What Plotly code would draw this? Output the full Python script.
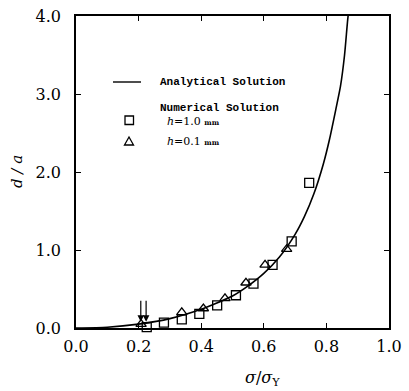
import plotly.graph_objects as go

# Analytical solution
sigma_curve = [0.0, 0.1, 0.2, 0.3, 0.4, 0.45, 0.5, 0.55, 0.6, 0.65, 0.7, 0.73, 0.76, 0.79, 0.81, 0.83, 0.845, 0.858, 0.868, 0.875]
d_curve = [0.0, 0.01, 0.05, 0.12, 0.24, 0.32, 0.41, 0.54, 0.70, 0.91, 1.20, 1.43, 1.72, 2.10, 2.42, 2.80, 3.10, 3.50, 3.95, 4.20]

# Numerical solution h = 1.0 mm (squares)
sigma_sq = [0.226, 0.281, 0.338, 0.394, 0.451, 0.511, 0.567, 0.628, 0.689, 0.745]
d_sq = [0.01, 0.07, 0.11, 0.18, 0.29, 0.42, 0.57, 0.81, 1.11, 1.86]

# Numerical solution h = 0.1 mm (triangles)
sigma_tri = [0.208, 0.338, 0.407, 0.476, 0.543, 0.604, 0.673]
d_tri = [0.05, 0.20, 0.25, 0.38, 0.58, 0.81, 1.01]

# Arrows marking onset
arrow_x = [0.207, 0.224]
arrow_tip = [0.08, 0.08]
arrow_tail = [0.37, 0.37]

x_ticks = [0.0, 0.2, 0.4, 0.6, 0.8, 1.0]
y_ticks = [0.0, 1.0, 2.0, 3.0, 4.0]

W, H = 409, 391
L, R, T, B = 76, 20, 16, 63
pw, ph = W - L - R, H - T - B


def px(xp):
    return (xp - L) / pw


def py(yp):
    return (H - B - yp) / ph


fig = go.Figure()
fig.add_trace(go.Scatter(x=sigma_curve, y=d_curve, mode="lines", line=dict(color="black", width=1.6, shape="spline", smoothing=0.6),
                         showlegend=False, hoverinfo="skip"))
fig.add_trace(go.Scatter(x=sigma_sq, y=d_sq, mode="markers",
                         marker=dict(symbol="square-open", size=9, color="black", line=dict(width=1.3)),
                         showlegend=False, cliponaxis=False))
fig.add_trace(go.Scatter(x=sigma_tri, y=d_tri, mode="markers",
                         marker=dict(symbol="triangle-up-open", size=9, color="black", line=dict(width=1.3)),
                         showlegend=False, cliponaxis=False))

serif = "DejaVu Serif"
annotations = []
for xa, yt, yb in zip(arrow_x, arrow_tip, arrow_tail):
    annotations.append(dict(x=xa, y=yt, ax=xa, ay=yb, xref="x", yref="y", axref="x", ayref="y",
                            showarrow=True, arrowhead=2, arrowsize=1.1, arrowwidth=1.2, arrowcolor="black", text=""))

leg_font = dict(family="Liberation Mono", size=11, color="black")
annotations += [
    dict(x=px(158), y=py(82), xref="paper", yref="paper", xanchor="left", yanchor="middle", showarrow=False,
         text="<b>Analytical Solution</b>", font=leg_font),
    dict(x=px(158), y=py(108), xref="paper", yref="paper", xanchor="left", yanchor="middle", showarrow=False,
         text="<b>Numerical Solution</b>", font=leg_font),
    dict(x=px(165), y=py(121), xref="paper", yref="paper", xanchor="left", yanchor="middle", showarrow=False,
         text="<i>h</i>=1.0 <span style='font-size:7px'><b>mm</b></span>", font=dict(family=serif, size=11, color="black")),
    dict(x=px(165), y=py(141), xref="paper", yref="paper", xanchor="left", yanchor="middle", showarrow=False,
         text="<i>h</i>=0.1 <span style='font-size:7px'><b>mm</b></span>", font=dict(family=serif, size=11, color="black")),
    dict(x=px(17), y=py(172), xref="paper", yref="paper", xanchor="center", yanchor="middle", showarrow=False,
         text="<i>d / a</i>", textangle=-90, font=dict(family=serif, size=15, color="black")),
    dict(x=px(262), y=py(378), xref="paper", yref="paper", xanchor="center", yanchor="middle", showarrow=False,
         text="<i>σ</i>/<i>σ</i><sub>Y</sub>", font=dict(family=serif, size=16, color="black")),
]

shapes = [
    dict(type="line", xref="paper", yref="paper", x0=px(113), x1=px(141), y0=py(82), y1=py(82),
         line=dict(color="black", width=1.4)),
    dict(type="rect", xref="paper", yref="paper", x0=px(125), x1=px(133.5), y0=py(116), y1=py(124.5),
         line=dict(color="black", width=1.3)),
    dict(type="path", xref="paper", yref="paper",
         path=f"M {px(124.5)} {py(145)} L {px(133.5)} {py(145)} L {px(129)} {py(137)} Z",
         line=dict(color="black", width=1.3)),
]

axis_common = dict(showline=True, linecolor="black", linewidth=1.6, mirror="ticks", ticks="inside",
                   ticklen=5, tickwidth=1.2, tickcolor="black", showgrid=False, zeroline=False, automargin=False,
                   tickfont=dict(family=serif, size=16, color="black"), tickformat=".1f")

fig.update_layout(
    width=W, height=H,
    margin=dict(l=L, r=R, t=T, b=B, autoexpand=False),
    paper_bgcolor="white", plot_bgcolor="white",
    xaxis=dict(range=[0, 1], tickvals=x_ticks, ticklabelstandoff=3, **axis_common),
    yaxis=dict(range=[0, 4], tickvals=y_ticks, ticklabelstandoff=10, **axis_common),
    annotations=annotations, shapes=shapes, showlegend=False,
)

fig.write_html("out.html", config={"displayModeBar": False},
               post_script="document.body.style.margin='0';document.body.style.overflow='hidden';")
